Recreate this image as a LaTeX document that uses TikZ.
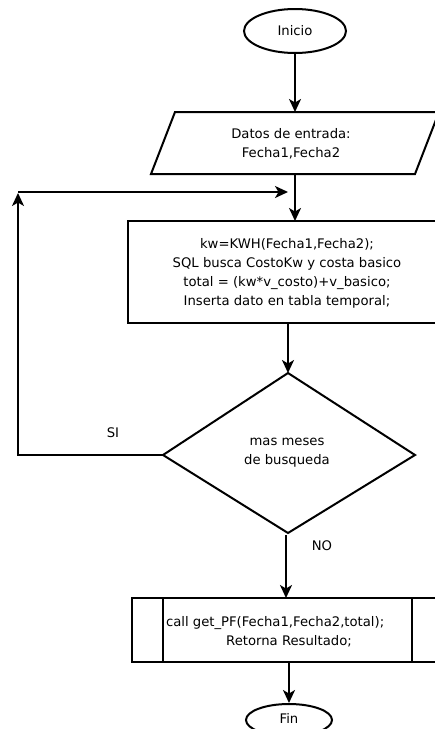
\documentclass[tikz,border=0pt]{standalone}
\usepackage{fontspec}
\setmainfont{DejaVu Sans}
\usetikzlibrary{shapes.geometric,arrows.meta}
\begin{document}
\begin{tikzpicture}[x=1pt,y=-1pt,line width=2pt,
  flow/.style={-{Stealth[length=13pt,width=12pt,inset=3.5pt]}},
  txt/.style={font=\fontsize{13.2}{19}\selectfont,align=center,text=black,inner sep=0pt},
  term/.style={draw,ellipse,inner sep=0pt,font=\fontsize{13.2}{19}\selectfont}]
\useasboundingbox (0,0) rectangle (435,729);

% start terminal
\node[term,minimum width=102pt,minimum height=44pt] (inicio) at (295,31) {Inicio};

% input parallelogram
\coordinate (dTL) at (175,112);
\coordinate (dTR) at (439,112);
\coordinate (dBR) at (415,174);
\coordinate (dBL) at (151,174);
\draw (dTL) -- (dTR) -- (dBR) -- (dBL) -- cycle;
\node[txt] (datos) at (291,144) {Datos de entrada:\\Fecha1,Fecha2};
\coordinate (datosTop) at (295,112);
\coordinate (datosBot) at (295,174);

% process box
\draw (128,221) rectangle (442,323);
\node[txt] (proc) at (287,273) {kw=KWH(Fecha1,Fecha2);\\SQL busca CostoKw y costa basico\\total = (kw*v\_costo)+v\_basico;\\Inserta dato en tabla temporal;};
\coordinate (procTop) at (295,221);
\coordinate (procBot) at (288,323);

% decision
\coordinate (qT) at (288,373);
\coordinate (qR) at (415,455);
\coordinate (qB) at (288,533);
\coordinate (qL) at (163,455);
\draw (qT) -- (qR) -- (qB) -- (qL) -- cycle;
\node[txt] (pregunta) at (287,453) {mas meses\\de busqueda};

% predefined process
\draw (132,598) rectangle (442,662);
\draw (163,598) -- (163,662);
\draw (412,598) -- (412,662);
\node[txt,anchor=west] (llamada) at (165,623) {call get\_PF(Fecha1,Fecha2,total);};
\node[txt] (retorno) at (289,641) {Retorna Resultado;};
\coordinate (subTop) at (286,598);
\coordinate (subBot) at (289,662);

% end terminal
\node[term,minimum width=86pt,minimum height=32pt] (fin) at (289,720) {\raisebox{4pt}{Fin}};

% connectors
\draw[flow] (inicio.south) -- (datosTop);
\draw[flow] (datosBot) -- (procTop);
\draw[flow] (procBot) -- (qT);
\coordinate (loopCorner) at (18,455);
\coordinate (loopTop) at (18,193);
\coordinate (loopStart) at (18,192);
\coordinate (merge) at (288,192);
\draw[flow] (qL) -- (loopCorner) -- (loopTop);
\draw[flow] (loopStart) -- (merge);
\node[txt] (si) at (113,433) {SI};
\coordinate (noStart) at (286,535);
\draw[flow] (noStart) -- (subTop);
\node[txt] (no) at (322,546) {NO};
\draw[flow] (subBot) -- (fin.north);
\end{tikzpicture}
\end{document}
